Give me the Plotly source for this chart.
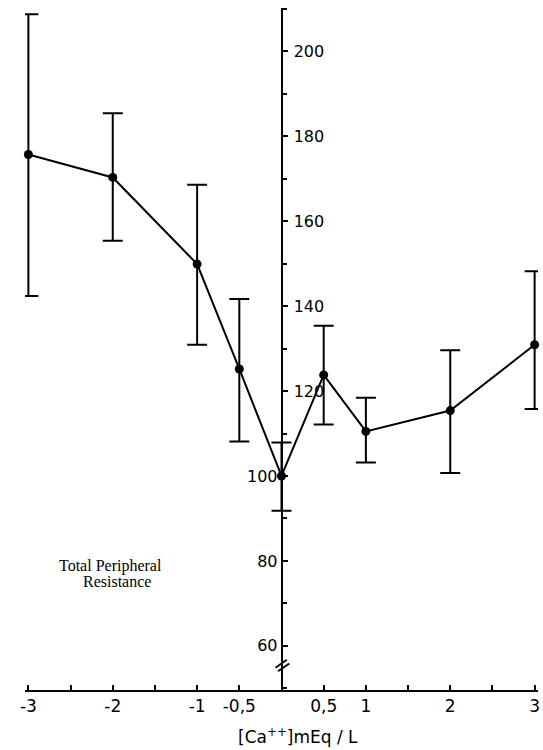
import plotly.graph_objects as go

# Data
ca_change = [-3, -2, -1, -0.5, 0, 0.5, 1, 2, 3]
tpr_mean = [175.7, 170.3, 149.9, 125.2, 100.0, 123.8, 110.5, 115.4, 130.9]
err_upper = [208.7, 185.4, 168.6, 141.7, 107.9, 135.4, 118.4, 129.6, 148.2]
err_lower = [142.4, 155.4, 130.9, 108.1, 91.8, 112.1, 103.2, 100.7, 115.8]

x_tick_vals = [-3, -2.5, -2, -1.5, -1, -0.5, 0, 0.5, 1, 1.5, 2, 2.5, 3]
x_tick_text = ["-3", "", "-2", "", "-1", "-0,5", "", "0,5", "1", "", "2", "", "3"]
y_right_vals = [60, 80, 100, 120, 140, 160, 180, 200]
y_right_text = ["", "", "", "120", "140", "160", "180", "200"]
y_left_vals = [60, 80, 100]
y_left_text = ["60", "80", "100"]

err_plus = [u - m for u, m in zip(err_upper, tpr_mean)]
err_minus = [m - l for m, l in zip(tpr_mean, err_lower)]

FONT = "DejaVu Sans"
Y_RANGE = [49.6, 210.2]

fig = go.Figure()
fig.add_trace(go.Scatter(
    x=ca_change, y=tpr_mean, mode="lines+markers",
    line=dict(color="black", width=2),
    marker=dict(color="black", size=9),
    error_y=dict(type="data", symmetric=False, array=err_plus, arrayminus=err_minus,
                 color="black", thickness=2, width=10),
    cliponaxis=False, showlegend=False,
))
# invisible trace so the left-label axis is drawn
fig.add_trace(go.Scatter(x=[0], y=[100], yaxis="y2", mode="markers",
                         marker=dict(opacity=0), showlegend=False, hoverinfo="skip"))

fig.update_layout(
    width=543, height=750,
    margin=dict(l=25, r=3, t=8, b=60),
    paper_bgcolor="white", plot_bgcolor="white",
    font=dict(family=FONT, size=16, color="black"),
    xaxis=dict(
        range=[-3.04, 3.04], showgrid=False, zeroline=False,
        showline=True, linecolor="black", linewidth=2,
        ticks="inside", ticklen=5, tickwidth=1.5, tickcolor="black",
        tickvals=x_tick_vals, ticktext=x_tick_text,
        tickfont=dict(family=FONT, size=17),
    ),
    yaxis=dict(
        range=Y_RANGE, anchor="free", position=0.5, side="right",
        showgrid=False, zeroline=False,
        showline=True, linecolor="black", linewidth=2,
        ticks="outside", ticklen=5, tickwidth=1.5, tickcolor="black",
        tickvals=y_right_vals, ticktext=y_right_text, ticklabelstandoff=3,
        minor=dict(dtick=10, tick0=0, ticks="outside", ticklen=4, tickwidth=1.5, tickcolor="black"),
        tickfont=dict(family=FONT, size=16),
    ),
    yaxis2=dict(
        range=Y_RANGE, overlaying="y", anchor="free", position=0.5, side="left",
        showgrid=False, zeroline=False, showline=False, ticks="",
        tickvals=y_left_vals, ticktext=y_left_text, ticklabelstandoff=4,
        tickfont=dict(family=FONT, size=16),
    ),
)

fig.add_annotation(text="[Ca<sup>++</sup>]mEq / L", x=0.2, xref="x", y=-0.048, yref="paper",
                   showarrow=False, yanchor="top", font=dict(family=FONT, size=17))
fig.add_annotation(text="Total Peripheral", x=-2.03, xref="x", y=78.9, yref="y",
                   showarrow=False, font=dict(family="Liberation Serif", size=16))
fig.add_annotation(text="Resistance", x=-1.95, xref="x", y=75.1, yref="y",
                   showarrow=False, font=dict(family="Liberation Serif", size=16))
fig.add_annotation(text="=", x=0, xref="x", y=55.3, yref="y", showarrow=False,
                   textangle=-35, font=dict(family=FONT, size=22))

fig.write_html("out.html", config={"displayModeBar": False},
               post_script="document.body.style.margin='0';")
